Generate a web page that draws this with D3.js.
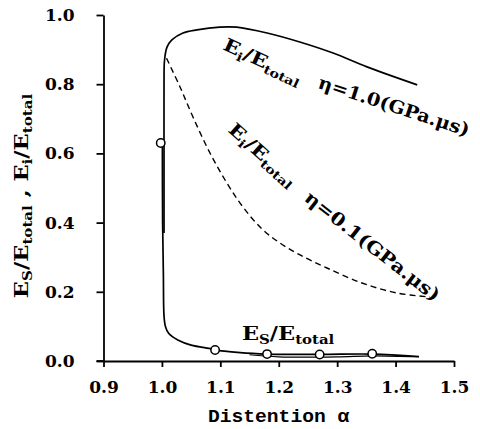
<!DOCTYPE html>
<html>
<head>
<meta charset="utf-8">
<script src="https://cdn.jsdelivr.net/npm/d3@7/dist/d3.min.js"></script>
<style>
  html, body { margin: 0; padding: 0; background: #fff; }
  svg { display: block; }
</style>
</head>
<body>
<svg id="chart" width="480" height="429"></svg>
<script>
// ---------- data ----------
const xTicks = [0.9, 1.0, 1.1, 1.2, 1.3, 1.4, 1.5];
const yTicks = [0.0, 0.2, 0.4, 0.6, 0.8, 1.0];

// E_i / E_total, eta = 1.0 (solid)
const eiHighAlpha = [1.0036, 1.0036, 1.0036, 1.0045, 1.0087, 1.017, 1.036, 1.06, 1.099, 1.128, 1.18, 1.236, 1.293, 1.351, 1.437];
const eiHighVal   = [0.37,   0.60,   0.80,   0.870,  0.907,  0.928, 0.948, 0.957, 0.965, 0.965, 0.948, 0.922, 0.890, 0.850, 0.798];

// E_i / E_total, eta = 0.1 (dashed)
const eiLowAlpha = [1.0079, 1.031, 1.0532, 1.0823, 1.1114, 1.1388, 1.1713, 1.2021, 1.2364, 1.2826, 1.3425, 1.4024, 1.4589];
const eiLowVal   = [0.875,  0.792, 0.705,  0.601,  0.514,  0.445,  0.3815, 0.341,  0.3064, 0.2688, 0.2254, 0.1965, 0.185];

// E_s / E_total (solid)
const esAlpha = [1.0008, 1.0012, 1.0025, 1.0036, 1.006, 1.0115, 1.028, 1.05, 1.085, 1.091, 1.134, 1.18, 1.27, 1.36, 1.44];
const esVal   = [0.63,   0.40,   0.25,   0.13,   0.10,  0.080,  0.060, 0.046, 0.035, 0.032, 0.024, 0.020, 0.019, 0.020, 0.013];

// second E_s trace (lower branch near the axis)
const es2Alpha = [1.15, 1.20, 1.30, 1.36, 1.44];
const es2Val   = [0.018, 0.012, 0.012, 0.015, 0.012];

// circle markers on E_s
const markAlpha = [0.998, 1.091, 1.18, 1.27, 1.36];
const markVal   = [0.63, 0.032, 0.020, 0.019, 0.021];

// ---------- layout ----------
const svg = d3.select("#chart");
const x = d3.scaleLinear().domain([0.9, 1.5]).range([103.5, 454]);
const y = d3.scaleLinear().domain([0, 1]).range([361, 15]);

const SERIF = "'DejaVu Serif', 'Liberation Serif', serif";

// axes
const xAxis = d3.axisBottom(x).tickValues(xTicks).tickFormat(d3.format(".1f"))
  .tickSize(6).tickSizeOuter(0).tickPadding(14);
const yAxis = d3.axisLeft(y).tickValues(yTicks).tickFormat(d3.format(".1f"))
  .tickSize(7).tickSizeOuter(0).tickPadding(22);

const gx = svg.append("g").attr("transform", `translate(0,${y(0)})`).call(xAxis);
const gy = svg.append("g").attr("transform", `translate(${x(0.9)},0)`).call(yAxis);
[gx, gy].forEach(g => {
  g.selectAll("path.domain").attr("stroke", "#000").attr("stroke-width", 1.8);
  g.selectAll(".tick line").attr("stroke", "#000").attr("stroke-width", 1.8);
  g.selectAll(".tick text").attr("fill", "#000")
    .style("font-family", SERIF).style("font-weight", "bold").style("font-size", "17px");
});
svg.append("line").attr("x1", x(0.9) - 7).attr("x2", x(0.9))
  .attr("y1", y(0)).attr("y2", y(0)).attr("stroke", "#000").attr("stroke-width", 1.8);

// curves
const line = d3.line().x(d => x(d[0])).y(d => y(d[1])).curve(d3.curveCatmullRom.alpha(0.5));
const zip = (a, b) => a.map((v, i) => [v, b[i]]);

svg.append("path").datum(zip(eiHighAlpha, eiHighVal)).attr("d", line)
  .attr("fill", "none").attr("stroke", "#000").attr("stroke-width", 1.7);
svg.append("path").datum(zip(eiLowAlpha, eiLowVal)).attr("d", line)
  .attr("fill", "none").attr("stroke", "#000").attr("stroke-width", 1.4)
  .attr("stroke-dasharray", "6,4");
svg.append("path").datum(zip(esAlpha, esVal)).attr("d", line)
  .attr("fill", "none").attr("stroke", "#000").attr("stroke-width", 1.7);
svg.append("path").datum(zip(es2Alpha, es2Val)).attr("d", line)
  .attr("fill", "none").attr("stroke", "#000").attr("stroke-width", 1.2);

svg.selectAll("circle.mark").data(zip(markAlpha, markVal)).join("circle")
  .attr("class", "mark")
  .attr("cx", d => x(d[0])).attr("cy", d => y(d[1])).attr("r", 4.2)
  .attr("fill", "#fff").attr("stroke", "#000").attr("stroke-width", 1.5);

// ---------- text helpers ----------
function richText(parent, parts, size, subSize, subShift) {
  const t = parent.append("text").attr("fill", "#000")
    .style("font-family", SERIF).style("font-weight", "bold").style("font-size", size + "px");
  let shifted = 0;
  parts.forEach(p => {
    const s = t.append("tspan").text(p.t);
    if (p.sub) {
      s.style("font-size", subSize + "px").attr("dy", subShift - shifted);
      shifted = subShift;
    } else if (shifted) {
      s.attr("dy", -shifted);
      shifted = 0;
    }
  });
  return t;
}
// stretch a text horizontally (in its own frame) to a target length
function fit(t, len) {
  const w = t.node().getBBox().width;
  if (w > 0) t.attr("transform", `scale(${len / w},1)`);
  return t;
}

function label(alpha, val, angle, parts, len) {
  const g = svg.append("g")
    .attr("transform", `translate(${x(alpha)},${y(val)}) rotate(${angle})`);
  fit(richText(g, parts, 18, 12, 4), len);
}
label(1.1028, 0.9017, 25, [{t: "E"}, {t: "i", sub: true}, {t: "/E"}, {t: "total", sub: true}], 85);
label(1.2655, 0.79, 18, [{t: "\u03b7=1.0(GPa.\u03bcs)"}], 158);
label(1.112, 0.665, 42, [{t: "E"}, {t: "i", sub: true}, {t: "/E"}, {t: "total", sub: true}], 85);
label(1.242, 0.465, 38, [{t: "\u03b7=0.1(GPa.\u03bcs)"}], 166);
label(1.137, 0.0607, 0, [{t: "E"}, {t: "S", sub: true}, {t: "/E"}, {t: "total", sub: true}], 93);

// axis titles
const yl = svg.append("g").attr("transform", "translate(28,196) rotate(-90)");
fit(richText(yl, [{t: "E"}, {t: "S", sub: true}, {t: "/E"}, {t: "total", sub: true},
              {t: " , E"}, {t: "i", sub: true}, {t: "/E"}, {t: "total", sub: true}], 18, 12, 4)
  .attr("text-anchor", "middle"), 205);

const xl = svg.append("g").attr("transform", "translate(208,422)");
fit(xl.append("text")
  .style("font-family", "'Liberation Mono', 'DejaVu Sans Mono', monospace")
  .style("font-weight", "bold").style("font-size", "19px")
  .text("Distention \u03b1"), 142);
</script>
</body>
</html>
